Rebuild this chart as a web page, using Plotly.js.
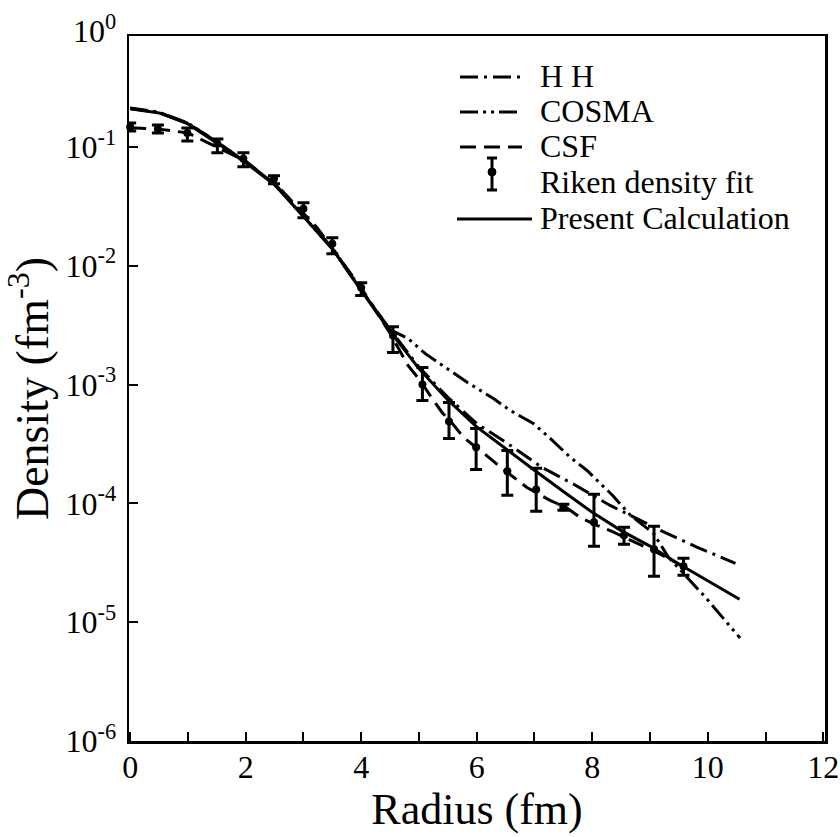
<!DOCTYPE html>
<html>
<head>
<meta charset="utf-8">
<script src="https://cdn.plot.ly/plotly-3.0.1.min.js"></script>
<style>html,body{margin:0;padding:0;background:#fff;}#chart{width:840px;height:837px;}</style>
</head>
<body>
<div id="chart"></div>
<script>
// ---- data ----
const rikenR  = [0, 0.48, 0.99, 1.51, 1.96, 2.49, 3.0, 3.5, 4.0, 4.55, 5.06, 5.52, 5.99, 6.53, 7.03, 7.5, 8.03, 8.55, 9.07, 9.58];
const rikenD  = [0.147, 0.1416, 0.131, 0.106, 0.0793, 0.0538, 0.0301, 0.0153, 0.00653, 0.00258, 0.00100, 4.89e-4, 2.96e-4, 1.86e-4, 1.31e-4, 9.25e-5, 6.92e-5, 5.38e-5, 4.1e-5, 2.96e-5];
const rikenHi = [0.159, 0.153, 0.144, 0.1167, 0.0891, 0.0571, 0.0338, 0.0172, 0.0072, 0.00307, 0.00139, 7.06e-4, 4.27e-4, 2.79e-4, 1.97e-4, 9.81e-5, 1.19e-4, 6.28e-5, 6.41e-5, 3.45e-5];
const rikenLo = [0.136, 0.131, 0.112, 0.0891, 0.0679, 0.0489, 0.0253, 0.0126, 0.0056, 0.00186, 7.34e-4, 3.52e-4, 1.93e-4, 1.17e-4, 8.57e-5, 8.73e-5, 4.35e-5, 4.52e-5, 2.44e-5, 2.48e-5];

const presentR = [0, 0.5, 1, 1.5, 2, 2.5, 3, 3.5, 4, 4.5, 5, 5.5, 6, 6.5, 7, 7.5, 8, 8.5, 9, 9.5, 10, 10.55];
const presentD = [0.209, 0.193, 0.156, 0.108, 0.0734, 0.048, 0.026, 0.0139, 0.0062, 0.0028, 0.00136, 7.4e-4, 4.4e-4, 2.87e-4, 1.9e-4, 1.26e-4, 8.4e-5, 5.9e-5, 4.37e-5, 3.09e-5, 2.22e-5, 1.56e-5];

const hhR = [0, 0.5, 1, 1.5, 2, 2.5, 3, 3.5, 4, 4.5, 5, 5.5, 6, 6.53, 7.13, 7.71, 8.31, 9.18, 9.82, 10.48];
const hhD = [0.21, 0.195, 0.158, 0.11, 0.075, 0.049, 0.0265, 0.0141, 0.0063, 0.0029, 0.0014, 7.8e-4, 4.7e-4, 3.2e-4, 2.01e-4, 1.42e-4, 9.6e-5, 5.93e-5, 4.27e-5, 3.13e-5];

const cosmaR = [0, 0.5, 1, 1.5, 2, 2.5, 3, 3.5, 4, 4.5, 4.81, 5.11, 5.54, 5.84, 6.29, 6.58, 6.98, 7.22, 7.62, 7.91, 8.35, 8.66, 9.06, 9.32, 9.64, 9.96, 10.56];
const cosmaD = [0.212, 0.196, 0.159, 0.11, 0.0745, 0.0485, 0.026, 0.0138, 0.0062, 0.0029, 2.44e-3, 1.82e-3, 1.31e-3, 1.04e-3, 7.62e-4, 6.05e-4, 4.7e-4, 3.72e-4, 2.44e-4, 1.89e-4, 1.17e-4, 7.94e-5, 5.6e-5, 3.52e-5, 2.39e-5, 1.62e-5, 7.35e-6];

const csfR = [0, 0.5, 1, 1.39, 2, 2.6, 3.24, 4, 4.5, 4.81, 5.02, 5.19, 5.4, 5.58, 5.77, 6.1, 6.44, 6.87, 7.27, 7.57, 7.79, 8.09, 8.36, 8.66, 9.06, 9.6];
const csfD = [0.145, 0.141, 0.131, 0.106, 0.076, 0.0443, 0.0208, 0.0065, 0.0027, 1.45e-3, 1.08e-3, 8.13e-4, 5.82e-4, 4.7e-4, 3.59e-4, 2.69e-4, 1.97e-4, 1.36e-4, 1.06e-4, 9.1e-5, 7.6e-5, 6.5e-5, 5.75e-5, 4.9e-5, 4.0e-5, 2.9e-5];

const xTickVals = [0,1,2,3,4,5,6,7,8,9,10,11,12];
const xTickText = ['0','','2','','4','','6','','8','','10','','12'];
const yTickVals = [1e-1,1e-2,1e-3,1e-4,1e-5,1e-6];
const yTickText = ['10<sup>-1</sup>','10<sup>-2</sup>','10<sup>-3</sup>','10<sup>-4</sup>','10<sup>-5</sup>','10<sup>-6</sup>'];
const yTopLabel = '10<sup>0</sup>';

const legendNames = ['H H', 'COSMA', 'CSF', 'Riken density fit', 'Present Calculation'];
const xTitle = 'Radius (fm)';
const yTitle = 'Density (fm<sup>-3</sup>)';

// ---- styles ----
const FONT = 'Liberation Serif, Times New Roman, Times, serif';
const DASH_HH = '18px,6px,3px,6px';
const DASH_COSMA = '18px,5px,3px,5px,3px,5px';
const DASH_CSF = '16px,8px';
const LW = 3;

const W = 840, H = 837, ML = 129, MR = 15, MT = 36, MB = 96;
const PW = W - ML - MR, PH = H - MT - MB;
const px = x => (x - ML) / PW;
const py = y => (H - MB - y) / PH;

const traces = [
  {x: hhR, y: hhD, mode: 'lines', line: {color: '#000', width: LW, dash: DASH_HH}, name: legendNames[0], showlegend: false},
  {x: cosmaR, y: cosmaD, mode: 'lines', line: {color: '#000', width: LW, dash: DASH_COSMA}, name: legendNames[1], showlegend: false},
  {x: csfR, y: csfD, mode: 'lines', line: {color: '#000', width: LW, dash: DASH_CSF}, name: legendNames[2], showlegend: false},
  {x: presentR, y: presentD, mode: 'lines', line: {color: '#000', width: LW}, name: legendNames[4], showlegend: false},
  {x: rikenR, y: rikenD, mode: 'markers', name: legendNames[3], showlegend: false, cliponaxis: false,
   marker: {symbol: 'circle', size: 8, color: '#000'},
   error_y: {type: 'data', symmetric: false,
     array: rikenHi.map((h, i) => h - rikenD[i]),
     arrayminus: rikenLo.map((l, i) => rikenD[i] - l),
     color: '#000', thickness: 3, width: 6}}
];

// custom legend (shapes + text)
const rows = [77, 112, 147, 183, 219];
const shapes = [];
const lineRow = (y, dash, x0, x1) => shapes.push({type: 'line', xref: 'paper', yref: 'paper', x0: px(x0), x1: px(x1), y0: py(y), y1: py(y), line: {color: '#000', width: LW, dash: dash}});
lineRow(rows[0], DASH_HH, 460, 522);
lineRow(rows[1], DASH_COSMA, 460, 522);
lineRow(rows[2], DASH_CSF, 460, 522);
lineRow(rows[4], 'solid', 457, 532);
// riken symbol
shapes.push({type: 'line', xref: 'paper', yref: 'paper', x0: px(492), x1: px(492), y0: py(158), y1: py(190), line: {color: '#000', width: 3}});
shapes.push({type: 'line', xref: 'paper', yref: 'paper', x0: px(487), x1: px(497), y0: py(158), y1: py(158), line: {color: '#000', width: 3}});
shapes.push({type: 'line', xref: 'paper', yref: 'paper', x0: px(487), x1: px(497), y0: py(190), y1: py(190), line: {color: '#000', width: 3}});
shapes.push({type: 'circle', xref: 'paper', yref: 'paper', x0: px(488), x1: px(496), y0: py(176), y1: py(168), fillcolor: '#000', line: {color: '#000', width: 1}});

const annotations = legendNames.map((t, i) => ({
  text: t, xref: 'paper', yref: 'paper', x: px(538), y: py(rows[i] - 1), xanchor: 'left', yanchor: 'middle',
  showarrow: false, font: {family: FONT, size: 32, color: '#000'}
}));
// 10^0 label sits above the frame (its tick is outside the drawn range)
annotations.push({text: yTopLabel, xref: 'paper', yref: 'paper', x: px(118), y: py(29), xanchor: 'right', yanchor: 'middle',
  showarrow: false, font: {family: FONT, size: 32, color: '#000'}});

const layout = {
  width: W, height: H,
  margin: {l: ML, r: MR, t: MT, b: MB},
  paper_bgcolor: '#fff', plot_bgcolor: '#fff',
  showlegend: false,
  font: {family: FONT, color: '#000', size: 32},
  xaxis: {
    range: [-0.02, 12.03], tickvals: xTickVals, ticktext: xTickText,
    ticks: 'inside', ticklen: 9, tickwidth: 2, tickcolor: '#000',
    showline: true, linewidth: 2.5, linecolor: '#000', mirror: true,
    showgrid: false, zeroline: false, ticklabelstandoff: -4,
    tickfont: {family: FONT, size: 32, color: '#000'},
    title: {text: xTitle, font: {family: FONT, size: 44, color: '#000'}, standoff: 4}
  },
  yaxis: {
    type: 'log', range: [-6, -0.067], tickvals: yTickVals, ticktext: yTickText,
    ticks: 'inside', ticklen: 9, tickwidth: 2, tickcolor: '#000',
    showline: true, linewidth: 2.5, linecolor: '#000', mirror: true,
    showgrid: false, zeroline: false, ticklabelstandoff: 4,
    tickfont: {family: FONT, size: 32, color: '#000'},
    title: {text: yTitle, font: {family: FONT, size: 46, color: '#000'}, standoff: 8}
  },
  shapes: shapes,
  annotations: annotations
};

Plotly.newPlot('chart', traces, layout, {displayModeBar: false, staticPlot: true});
</script>
</body>
</html>
